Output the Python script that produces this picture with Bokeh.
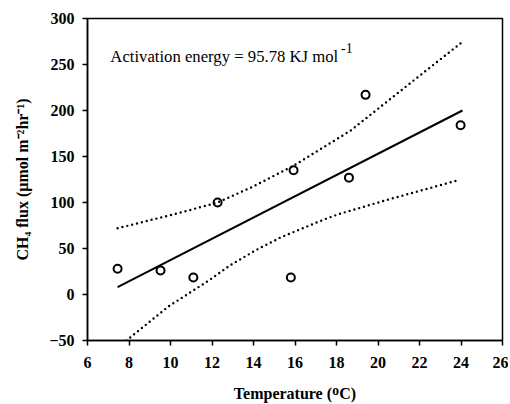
from bokeh.plotting import figure
from bokeh.models import Label, FixedTicker, Range1d
from bokeh.embed import file_html
from bokeh.resources import INLINE

# Observed data
temp = [7.45, 9.52, 11.1, 12.27, 15.8, 15.93, 18.6, 19.4, 23.98]
flux = [28, 26, 18.5, 100, 18.5, 135, 127, 217, 184]

# Regression line
fit_x = [7.45, 24.07]
fit_y = [8, 200]

# Confidence bands
upper_x = [7.45, 10.48, 12.27, 13.95, 15.93, 18.67, 21.57, 23.98]
upper_y = [72, 89, 100, 117, 140, 178, 230, 273]
lower_x = [7.5, 9.9, 11.83, 12.89, 14.1, 15.3, 17.23, 18.05, 20.46, 23.83]
lower_y = [-57, -13, 15, 32, 48, 62, 80, 87, 103, 124]

x_ticks = [6, 8, 10, 12, 14, 16, 18, 20, 22, 24, 26]
y_ticks = [-50, 0, 50, 100, 150, 200, 250, 300]

SERIF = "Liberation Serif"

p = figure(width=508, height=404, output_backend="svg", toolbar_location=None,
           x_range=Range1d(6, 26), y_range=Range1d(-50, 300),
           min_border_left=87, min_border_right=6, min_border_top=18, min_border_bottom=64)

p.grid.visible = False
p.outline_line_color = "black"
p.outline_line_width = 1.5
p.background_fill_color = "white"
p.border_fill_color = "white"

p.axis.axis_line_width = 1.5
p.axis.axis_line_color = "black"
p.axis.major_tick_line_width = 1.5
p.axis.major_tick_line_color = "black"
p.axis.major_tick_out = 5
p.axis.major_tick_in = 0
p.axis.minor_tick_line_color = None
p.axis.major_label_text_font = SERIF
p.axis.major_label_text_font_style = "bold"
p.axis.major_label_text_font_size = "16px"
p.axis.major_label_text_color = "black"
p.axis.axis_label_text_font = SERIF
p.axis.axis_label_text_font_style = "bold"
p.axis.axis_label_text_font_size = "16px"
p.axis.axis_label_text_color = "black"

p.xaxis.ticker = FixedTicker(ticks=x_ticks)
p.yaxis.ticker = FixedTicker(ticks=y_ticks)
p.xaxis.major_label_standoff = 11
p.yaxis.major_label_standoff = 8
p.xaxis.axis_label = "Temperature (\u1D3CC)"
p.yaxis.axis_label = "CH\u2084 flux (\u00B5mol m\u207B\u00B2hr\u207B\u00B9)"
p.xaxis.axis_label_standoff = 14
p.yaxis.axis_label_standoff = 15

p.line(upper_x, upper_y, line_color="black", line_width=2.4, line_dash="0 5", line_cap="round")
p.line(lower_x, lower_y, line_color="black", line_width=2.4, line_dash="0 5", line_cap="round")
p.line(fit_x, fit_y, line_color="black", line_width=2)
p.scatter(temp, flux, marker="circle", size=8, fill_color=None, line_color="black", line_width=2)

p.add_layout(Label(x=7.1, y=258.7, text="Activation energy = 95.78 KJ mol",
                   text_font=SERIF, text_font_size="16.7px", text_color="black",
                   text_baseline="alphabetic"))
p.add_layout(Label(x=18.22, y=267.4, text="-1",
                   text_font=SERIF, text_font_size="14px", text_color="black",
                   text_baseline="alphabetic"))

open("out.html", "w").write(file_html(p, INLINE))
